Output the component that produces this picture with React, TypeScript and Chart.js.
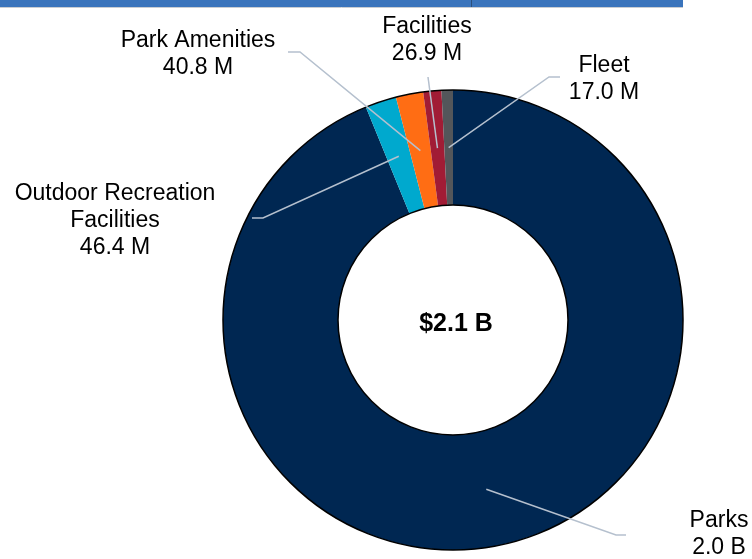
import React, { useEffect, useRef } from "react";
import { Chart, registerables } from "chart.js";

Chart.register(...registerables);

// ---- data ----
const categories = ["Parks", "Outdoor Recreation Facilities", "Park Amenities", "Facilities", "Fleet"];
const labelLines = [["Parks"], ["Outdoor Recreation", "Facilities"], ["Park Amenities"], ["Facilities"], ["Fleet"]];
const valuesM = [1990, 46.4, 40.8, 26.9, 17.0];
const colors = ["#002752", "#00A9CE", "#FF6D14", "#A11C35", "#53565A"];

// ---- layout (label text centre x, first baseline y, leader elbow & end) ----
const labelLayout = [
  { x: 719, y: 527, elbow: [616, 535], end: [626, 535] },
  { x: 115, y: 200, elbow: [263, 218], end: [252, 218] },
  { x: 198, y: 47, elbow: [300, 52], end: [288, 52] },
  { x: 427, y: 33, elbow: null, end: [428, 77] },
  { x: 604, y: 72, elbow: [549, 77], end: [560, 77] },
];

const FONT = '"Liberation Sans", Arial, sans-serif';
const LINE_H = 27;

function fmt(v: number): string {
  return v >= 1000 ? (v / 1000).toFixed(1) + " B" : v.toFixed(1) + " M";
}

const decorPlugin = {
  id: "decor",
  beforeDraw(chart: any) {
    const ctx = chart.ctx;
    ctx.save();
    ctx.fillStyle = "#3A74BC";
    ctx.fillRect(0, 0, 683, 7);
    ctx.strokeStyle = "#2A4F7C";
    ctx.lineWidth = 1;
    ctx.beginPath();
    ctx.moveTo(471.5, 0);
    ctx.lineTo(471.5, 7);
    ctx.stroke();
    ctx.strokeStyle = "#C9CDD2";
    ctx.beginPath();
    ctx.moveTo(0, 7.5);
    ctx.lineTo(683, 7.5);
    ctx.stroke();
    ctx.restore();
  },
  afterDatasetsDraw(chart: any) {
    const ctx = chart.ctx;
    const meta = chart.getDatasetMeta(0);
    const arcs = meta.data;
    if (!arcs.length) return;
    const p0 = arcs[0].getProps(["x", "y", "innerRadius", "outerRadius"], true);
    ctx.save();
    // outlines
    ctx.strokeStyle = "#000000";
    ctx.lineWidth = 1.5;
    ctx.beginPath();
    ctx.arc(p0.x, p0.y, p0.outerRadius, 0, Math.PI * 2);
    ctx.stroke();
    ctx.beginPath();
    ctx.arc(p0.x, p0.y, p0.innerRadius, 0, Math.PI * 2);
    ctx.stroke();

    // leader lines + labels
    arcs.forEach((arc: any, i: number) => {
      const p = arc.getProps(["x", "y", "startAngle", "endAngle", "innerRadius", "outerRadius"], true);
      const mid = (p.startAngle + p.endAngle) / 2;
      const r = (p.innerRadius + p.outerRadius) / 2;
      const px = p.x + Math.cos(mid) * r;
      const py = p.y + Math.sin(mid) * r;
      const lay = labelLayout[i];
      ctx.strokeStyle = "#B5C0CE";
      ctx.lineWidth = 1.5;
      ctx.beginPath();
      ctx.moveTo(px, py);
      if (lay.elbow) ctx.lineTo(lay.elbow[0], lay.elbow[1]);
      ctx.lineTo(lay.end[0], lay.end[1]);
      ctx.stroke();

      ctx.fillStyle = "#000000";
      ctx.font = `23px ${FONT}`;
      ctx.textAlign = "center";
      ctx.textBaseline = "alphabetic";
      const lines = [...labelLines[i], fmt(valuesM[i])];
      lines.forEach((t, k) => ctx.fillText(t, lay.x, lay.y + k * LINE_H));
    });

    // centre total
    const total = valuesM.reduce((a, b) => a + b, 0);
    ctx.font = `bold 25px ${FONT}`;
    ctx.textAlign = "center";
    ctx.textBaseline = "alphabetic";
    ctx.fillText("$" + (total / 1000).toFixed(1) + " B", p0.x + 3, p0.y + 11);
    ctx.restore();
  },
};

export default function App() {
  const ref = useRef<HTMLCanvasElement>(null);
  useEffect(() => {
    if (!ref.current) return;
    const chart = new Chart(ref.current, {
      type: "doughnut",
      data: {
        labels: categories,
        datasets: [
          {
            data: valuesM,
            backgroundColor: colors,
            borderWidth: 0,
          },
        ],
      },
      options: {
        responsive: false,
        animation: false,
        cutout: "50%",
        layout: { padding: { left: 223, right: 69, top: 90, bottom: 9 } },
        plugins: { legend: { display: false }, tooltip: { enabled: false } },
      },
      plugins: [decorPlugin],
    });
    return () => chart.destroy();
  }, []);
  return (
    <div style={{ position: "absolute", left: 0, top: 0, width: 752, height: 559, background: "#fff" }}>
      <canvas ref={ref} width={752} height={559} style={{ display: "block" }} />
    </div>
  );
}
